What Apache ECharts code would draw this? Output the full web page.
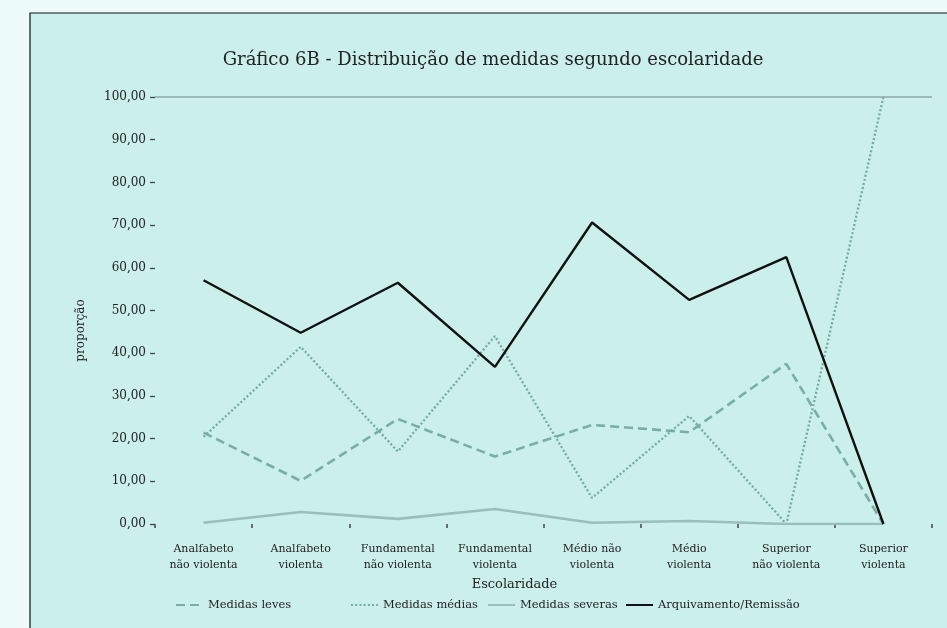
<!DOCTYPE html>
<html>
<head>
<meta charset="utf-8">
<script src="https://cdn.jsdelivr.net/npm/echarts@6/dist/echarts.min.js"></script>
<style>
  html, body { margin: 0; padding: 0; background: #edfcfa; }
  #chart { width: 947px; height: 628px; }
</style>
</head>
<body>
<div id="chart"></div>
<script>
// categorias de escolaridade
var categorias = [
  "Analfabeto\nnão violenta",
  "Analfabeto\nviolenta",
  "Fundamental\nnão violenta",
  "Fundamental\nviolenta",
  "Médio não\nviolenta",
  "Médio\nviolenta",
  "Superior\nnão violenta",
  "Superior\nviolenta"
];
var nomes = ["Medidas leves", "Medidas médias", "Medidas severas", "Arquivamento/Remissão"];
var medidasLeves = [21.4, 10.1, 24.6, 15.8, 23.2, 21.5, 37.5, 0];
var medidasMedias = [20.4, 41.5, 17.0, 44.0, 6.1, 25.3, 0, 100];
var medidasSeveras = [0.3, 2.8, 1.2, 3.5, 0.3, 0.7, 0, 0];
var arquivamento = [57.1, 44.8, 56.5, 36.8, 70.6, 52.5, 62.5, 0];
var yMin = 0;
var yMax = 100;
var yStep = 10;

var fonte = "DejaVu Serif";
var myChart = echarts.init(document.getElementById("chart"));

function linha(nome, dados, cor, tipo, largura) {
  return {
    name: nome,
    type: "line",
    data: dados,
    symbol: "none",
    smooth: false,
    lineStyle: { color: cor, type: tipo, width: largura },
    itemStyle: { color: cor }
  };
}

var series = [
  linha(nomes[0], medidasLeves, "#7aaea4", [9, 5], 2.6),
  linha(nomes[1], medidasMedias, "#74aaa0", [2, 2.2], 2.3),
  linha(nomes[2], medidasSeveras, "#98bfb8", "solid", 2.6),
  linha(nomes[3], arquivamento, "#111", "solid", 2.4)
];
// linha do topo (100,00)
series[0].markLine = {
  silent: true,
  symbol: "none",
  label: { show: false },
  lineStyle: { color: "#8ea9a4", type: "solid", width: 1.6 },
  data: [{ yAxis: yMax }]
};

// uma legenda por item, espaçamento irregular como no original
var legendLeft = [170, 345, 482, 620];
var legends = nomes.map(function (n, i) {
  return {
    left: legendLeft[i],
    top: 594,
    itemWidth: 27,
    itemHeight: 12,
    itemStyle: { opacity: 0 },
    textStyle: { fontFamily: fonte, fontSize: 11.5, color: "#222" },
    data: [n]
  };
});

var option = {
  animation: false,
  graphic: [
    {
      type: "rect",
      z: -10,
      shape: { x: 30, y: 13, width: 930, height: 630 },
      style: { fill: "#cbefeb", stroke: "#111", lineWidth: 1.2 }
    }
  ],
  title: {
    text: "Gráfico 6B - Distribuição de medidas segundo escolaridade",
    left: 488,
    textAlign: "center",
    top: 46,
    textStyle: { fontFamily: fonte, fontSize: 18, fontWeight: "normal", color: "#222" }
  },
  legend: legends,
  grid: { left: 155, right: 15, top: 97, bottom: 104 },
  xAxis: {
    type: "category",
    data: categorias,
    boundaryGap: true,
    name: "Escolaridade",
    nameLocation: "middle",
    nameGap: 49,
    nameTextStyle: { fontFamily: fonte, fontSize: 13, color: "#222", padding: [0, 58, 0, 0] },
    axisLine: { show: false },
    axisTick: { show: true, length: 4, lineStyle: { color: "#444", width: 1.5 } },
    axisLabel: {
      interval: 0,
      margin: 17,
      lineHeight: 16,
      fontFamily: fonte,
      fontSize: 11,
      color: "#222"
    }
  },
  yAxis: {
    type: "value",
    min: yMin,
    max: yMax,
    interval: yStep,
    name: "proporção",
    nameLocation: "middle",
    nameGap: 68,
    nameTextStyle: { fontFamily: fonte, fontSize: 12, color: "#222", padding: [0, 40, 0, 0] },
    axisLine: { show: false },
    axisTick: { show: true, length: 5, lineStyle: { color: "#444", width: 1.3 } },
    splitLine: { show: false },
    axisLabel: {
      margin: 9,
      fontFamily: fonte,
      fontSize: 12,
      color: "#222",
      formatter: function (v) {
        return v.toFixed(2).replace(".", ",");
      }
    }
  },
  series: series
};
myChart.setOption(option);
</script>
</body>
</html>
